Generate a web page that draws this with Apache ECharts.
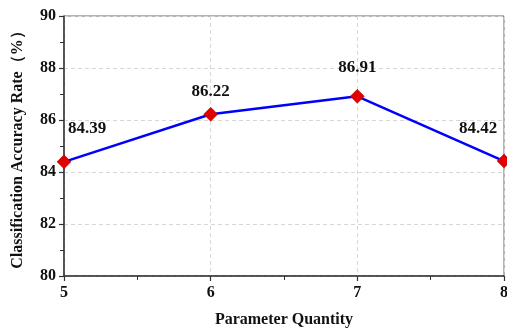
<!DOCTYPE html>
<html><head><meta charset="utf-8">
<script src="https://cdn.jsdelivr.net/npm/echarts@6/dist/echarts.min.js"></script>
<style>html,body{margin:0;padding:0;background:#fff}#c{width:507px;height:329px}</style>
</head><body><div id="c"></div>
<script>
var categories = [5, 6, 7, 8];
var accuracy = [84.39, 86.22, 86.91, 84.42];
var yTicks = [80, 82, 84, 86, 88, 90];
var labelOffsets = [[23, -13], [0, -2], [0, -8], [-26, -12]];

var font = '"Liberation Serif","Times New Roman",serif';
var chart = echarts.init(document.getElementById('c'), null, {renderer: 'canvas'});
var data = categories.map(function (c, i) {
  return {value: [c, accuracy[i]], label: {offset: labelOffsets[i]}};
});
chart.setOption({
  animation: false,
  grid: {left: 64, right: 3, top: 16, bottom: 53, show: true, borderColor: '#666', borderWidth: 1,
    containLabel: false, outerBoundsMode: 'none'},
  xAxis: {
    type: 'value', min: 5, max: 8, interval: 1,
    name: 'Parameter Quantity', nameLocation: 'middle', nameGap: 36,
    nameTextStyle: {fontFamily: font, fontWeight: 'bold', fontSize: 16, color: '#111'},
    axisLine: {show: true, lineStyle: {color: '#333', width: 1.5}},
    axisTick: {show: true, length: 5, lineStyle: {color: '#333', width: 1.2}},
    minorTick: {show: true, splitNumber: 2, length: 4, lineStyle: {color: '#333', width: 1}},
    axisLabel: {fontFamily: font, fontWeight: 'bold', fontSize: 16, color: '#111', margin: 9},
    splitLine: {show: true, lineStyle: {color: '#d8d8d8', type: [4, 3], width: 1}}
  },
  yAxis: {
    type: 'value', min: yTicks[0], max: yTicks[yTicks.length - 1], interval: 2,
    name: 'Classification Accuracy Rate（%）', nameLocation: 'middle', nameGap: 38,
    nameTextStyle: {fontFamily: font, fontWeight: 'bold', fontSize: 16, color: '#111'},
    axisLine: {show: true, lineStyle: {color: '#333', width: 1.5}},
    axisTick: {show: true, length: 5, lineStyle: {color: '#333', width: 1.2}},
    minorTick: {show: true, splitNumber: 2, length: 4, lineStyle: {color: '#333', width: 1}},
    axisLabel: {fontFamily: font, fontWeight: 'bold', fontSize: 16, color: '#111', margin: 8},
    splitLine: {show: true, lineStyle: {color: '#d8d8d8', type: [4, 3], width: 1}}
  },
  series: [{
    type: 'line', data: data, clip: false,
    symbol: 'diamond', symbolSize: 14,
    itemStyle: {color: '#e00000', borderColor: '#b00000', borderWidth: 0.5},
    lineStyle: {color: '#0000ff', width: 2.5},
    label: {show: true, position: 'top', fontFamily: font, fontWeight: 'bold', fontSize: 17, color: '#111',
      formatter: function (p) { return p.value[1].toFixed(2); }}
  }]
});
</script></body></html>
